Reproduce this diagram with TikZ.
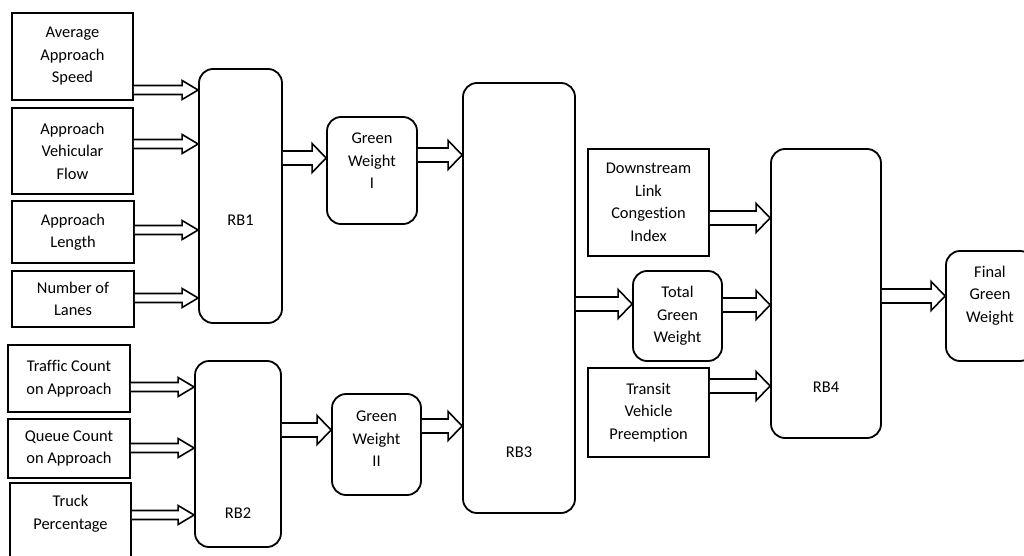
\documentclass[tikz,border=0pt]{standalone}
\usepackage{fontspec}
\setmainfont{Carlito}[Ligatures=NoCommon]
\usetikzlibrary{calc}
\newcommand{\lblfont}{\fontsize{16.4}{22.5}\selectfont}
\newcommand{\BlkArrow}[6]{%
  \draw[blockarrow] let \p1=(#1.east), \p2=(#2.west) in
   (\x1,-#3pt+#4pt) -- (\x2-#6pt,-#3pt+#4pt) -- (\x2-#6pt,-#3pt+#5pt) -- (\x2,-#3pt)
   -- (\x2-#6pt,-#3pt-#5pt) -- (\x2-#6pt,-#3pt-#4pt) -- (\x1,-#3pt-#4pt);}
\newcommand{\SmallArr}[3]{\BlkArrow{#1}{#2}{#3}{4.5}{9.5}{16}}
\newcommand{\BigArr}[3]{\BlkArrow{#1}{#2}{#3}{7}{14.5}{14}}
\tikzset{
  sqbox/.style={draw, line width=1.8pt, align=center, inner sep=0pt, font=\lblfont},
  rbox/.style={sqbox, rounded corners=14pt},
  boxtext/.style={align=center, font=\lblfont, inner sep=0pt},
  blockarrow/.style={draw, line width=1.6pt, line join=miter, fill=white},
}
\begin{document}
\begin{tikzpicture}[x=1pt,y=-1pt]
\useasboundingbox (0,0) rectangle (1024,556);
\clip (0,0) rectangle (1024,556);
% input boxes
\node[sqbox, minimum width=121pt, minimum height=87pt] (avg) at (72.5,56.5) {Average\\Approach\\Speed};
\node[sqbox, minimum width=121pt, minimum height=86pt] (flow) at (72.5,151) {Approach\\Vehicular\\Flow};
\node[sqbox, minimum width=122pt, minimum height=62pt] (length) at (73,232) {Approach\\Length};
\node[sqbox, minimum width=122pt, minimum height=56pt] (lanes) at (73,299) {Number of\\Lanes};
\node[sqbox, minimum width=122pt, minimum height=67pt] (traffic) at (69,378.5) {Traffic Count\\on Approach};
\node[sqbox, minimum width=122pt, minimum height=59pt] (queue) at (69,448.5) {Queue Count\\on Approach};
\node[sqbox, minimum width=121pt, minimum height=92pt,
  label={[boxtext, yshift=15.5pt]center:Truck\\Percentage}] (truck) at (70.5,529) {};
% rule blocks
\node[rbox, minimum width=83pt, minimum height=254pt,
  label={[boxtext, yshift=-24pt]center:RB1}] (rb1) at (240.5,196) {};
\node[rbox, minimum width=86pt, minimum height=186pt,
  label={[boxtext, yshift=-59pt]center:RB2}] (rb2) at (238,454) {};
\node[rbox, minimum width=90pt, minimum height=107pt,
  label={[boxtext, yshift=9.5pt]center:Green\\Weight\\I}] (gw1) at (372,170.5) {};
\node[rbox, minimum width=89pt, minimum height=101pt,
  label={[boxtext, yshift=5.5pt]center:Green\\Weight\\II}] (gw2) at (376.5,444.5) {};
\node[rbox, minimum width=112pt, minimum height=430pt,
  label={[boxtext, yshift=-154pt]center:RB3}] (rb3) at (519,298) {};
\node[sqbox, minimum width=121pt, minimum height=107pt] (down) at (648.5,202.5) {Downstream\\Link\\Congestion\\Index};
\node[rbox, minimum width=89pt, minimum height=90pt] (tgw) at (677.5,316) {Total\\Green\\Weight};
\node[sqbox, minimum width=121pt, minimum height=89pt] (transit) at (648.5,412.5) {Transit\\Vehicle\\Preemption};
\node[rbox, minimum width=110pt, minimum height=289pt,
  label={[boxtext, yshift=-93.5pt]center:RB4}] (rb4) at (826,293.5) {};
\node[rbox, minimum width=88pt, minimum height=110pt,
  label={[boxtext, yshift=10.5pt]center:Final\\Green\\Weight}] (final) at (990,306) {};
% connectors
\SmallArr{avg}{rb1}{90}
\SmallArr{flow}{rb1}{144}
\SmallArr{length}{rb1}{230}
\SmallArr{lanes}{rb1}{298}
\SmallArr{traffic}{rb2}{387}
\SmallArr{queue}{rb2}{448}
\SmallArr{truck}{rb2}{515}
\BigArr{rb1}{gw1}{158}
\BigArr{gw1}{rb3}{155}
\BigArr{rb2}{gw2}{430}
\BigArr{gw2}{rb3}{426}
\BigArr{rb3}{tgw}{304}
\BigArr{down}{rb4}{218}
\BigArr{tgw}{rb4}{305}
\BigArr{transit}{rb4}{386}
\BigArr{rb4}{final}{296}
\end{tikzpicture}
\end{document}
